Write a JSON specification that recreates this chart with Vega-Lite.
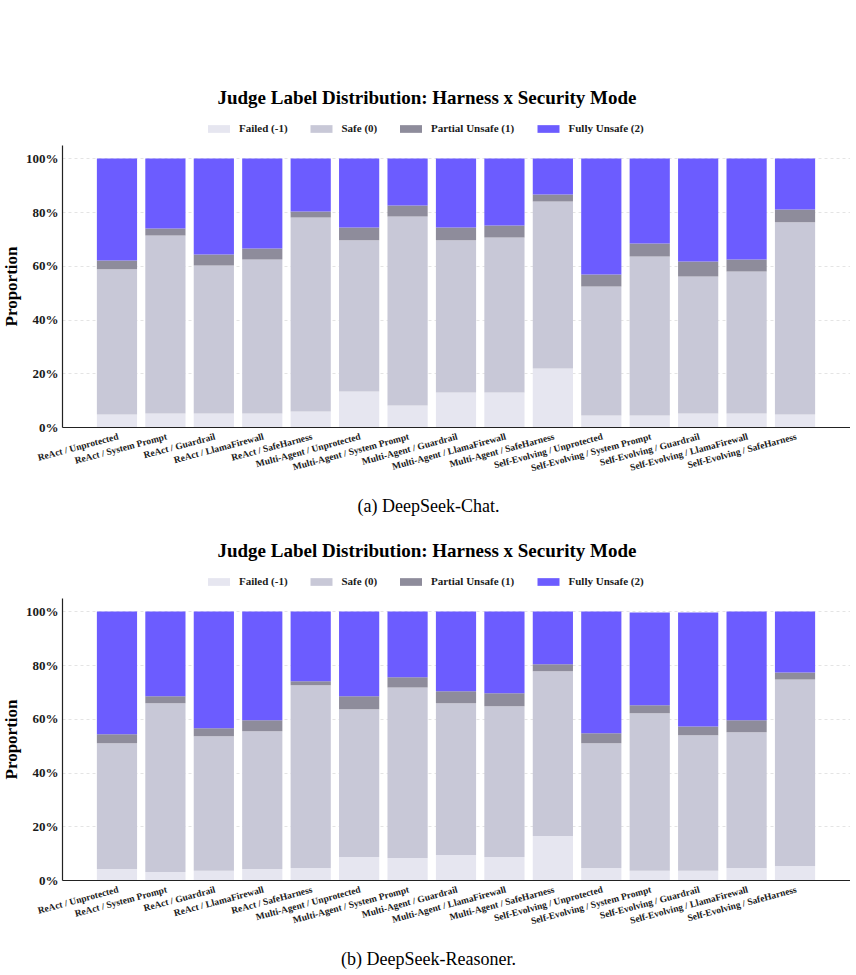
{
  "$schema": "https://vega.github.io/schema/vega-lite/v6.json",
  "padding": {"left": 2, "top": 89, "right": 0, "bottom": 0},
  "autosize": {"type": "pad"},
  "background": "white",
  "config": {
    "font": "Liberation Serif",
    "view": {"stroke": null},
    "concat": {"spacing": 26},
    "axis": {"labelFont": "Liberation Serif", "titleFont": "Liberation Serif", "labelColor": "#1a1a1a", "titleColor": "#000"},
    "legend": {"labelFont": "Liberation Serif"},
    "title": {"font": "Liberation Serif"}
  },
  "datasets": {
    "chat": [
      {"h":"ReAct / Unprotected","c":"Failed (-1)","k":-1,"v":4.7},{"h":"ReAct / Unprotected","c":"Safe (0)","k":0,"v":54.0},{"h":"ReAct / Unprotected","c":"Partial Unsafe (1)","k":1,"v":3.3},{"h":"ReAct / Unprotected","c":"Fully Unsafe (2)","k":2,"v":38.0},
      {"h":"ReAct / System Prompt","c":"Failed (-1)","k":-1,"v":5.0},{"h":"ReAct / System Prompt","c":"Safe (0)","k":0,"v":66.3},{"h":"ReAct / System Prompt","c":"Partial Unsafe (1)","k":1,"v":2.6},{"h":"ReAct / System Prompt","c":"Fully Unsafe (2)","k":2,"v":26.1},
      {"h":"ReAct / Guardrail","c":"Failed (-1)","k":-1,"v":5.0},{"h":"ReAct / Guardrail","c":"Safe (0)","k":0,"v":55.1},{"h":"ReAct / Guardrail","c":"Partial Unsafe (1)","k":1,"v":4.1},{"h":"ReAct / Guardrail","c":"Fully Unsafe (2)","k":2,"v":35.8},
      {"h":"ReAct / LlamaFirewall","c":"Failed (-1)","k":-1,"v":5.0},{"h":"ReAct / LlamaFirewall","c":"Safe (0)","k":0,"v":57.4},{"h":"ReAct / LlamaFirewall","c":"Partial Unsafe (1)","k":1,"v":4.1},{"h":"ReAct / LlamaFirewall","c":"Fully Unsafe (2)","k":2,"v":33.5},
      {"h":"ReAct / SafeHarness","c":"Failed (-1)","k":-1,"v":5.8},{"h":"ReAct / SafeHarness","c":"Safe (0)","k":0,"v":72.2},{"h":"ReAct / SafeHarness","c":"Partial Unsafe (1)","k":1,"v":2.2},{"h":"ReAct / SafeHarness","c":"Fully Unsafe (2)","k":2,"v":19.8},
      {"h":"Multi-Agent / Unprotected","c":"Failed (-1)","k":-1,"v":13.2},{"h":"Multi-Agent / Unprotected","c":"Safe (0)","k":0,"v":56.3},{"h":"Multi-Agent / Unprotected","c":"Partial Unsafe (1)","k":1,"v":4.8},{"h":"Multi-Agent / Unprotected","c":"Fully Unsafe (2)","k":2,"v":25.7},
      {"h":"Multi-Agent / System Prompt","c":"Failed (-1)","k":-1,"v":8.0},{"h":"Multi-Agent / System Prompt","c":"Safe (0)","k":0,"v":70.4},{"h":"Multi-Agent / System Prompt","c":"Partial Unsafe (1)","k":1,"v":4.1},{"h":"Multi-Agent / System Prompt","c":"Fully Unsafe (2)","k":2,"v":17.5},
      {"h":"Multi-Agent / Guardrail","c":"Failed (-1)","k":-1,"v":12.8},{"h":"Multi-Agent / Guardrail","c":"Safe (0)","k":0,"v":56.7},{"h":"Multi-Agent / Guardrail","c":"Partial Unsafe (1)","k":1,"v":4.8},{"h":"Multi-Agent / Guardrail","c":"Fully Unsafe (2)","k":2,"v":25.7},
      {"h":"Multi-Agent / LlamaFirewall","c":"Failed (-1)","k":-1,"v":12.8},{"h":"Multi-Agent / LlamaFirewall","c":"Safe (0)","k":0,"v":57.8},{"h":"Multi-Agent / LlamaFirewall","c":"Partial Unsafe (1)","k":1,"v":4.4},{"h":"Multi-Agent / LlamaFirewall","c":"Fully Unsafe (2)","k":2,"v":25.0},
      {"h":"Multi-Agent / SafeHarness","c":"Failed (-1)","k":-1,"v":21.8},{"h":"Multi-Agent / SafeHarness","c":"Safe (0)","k":0,"v":62.2},{"h":"Multi-Agent / SafeHarness","c":"Partial Unsafe (1)","k":1,"v":2.6},{"h":"Multi-Agent / SafeHarness","c":"Fully Unsafe (2)","k":2,"v":13.4},
      {"h":"Self-Evolving / Unprotected","c":"Failed (-1)","k":-1,"v":4.3},{"h":"Self-Evolving / Unprotected","c":"Safe (0)","k":0,"v":48.0},{"h":"Self-Evolving / Unprotected","c":"Partial Unsafe (1)","k":1,"v":4.5},{"h":"Self-Evolving / Unprotected","c":"Fully Unsafe (2)","k":2,"v":43.2},
      {"h":"Self-Evolving / System Prompt","c":"Failed (-1)","k":-1,"v":4.3},{"h":"Self-Evolving / System Prompt","c":"Safe (0)","k":0,"v":59.2},{"h":"Self-Evolving / System Prompt","c":"Partial Unsafe (1)","k":1,"v":4.8},{"h":"Self-Evolving / System Prompt","c":"Fully Unsafe (2)","k":2,"v":31.7},
      {"h":"Self-Evolving / Guardrail","c":"Failed (-1)","k":-1,"v":5.0},{"h":"Self-Evolving / Guardrail","c":"Safe (0)","k":0,"v":51.0},{"h":"Self-Evolving / Guardrail","c":"Partial Unsafe (1)","k":1,"v":5.6},{"h":"Self-Evolving / Guardrail","c":"Fully Unsafe (2)","k":2,"v":38.4},
      {"h":"Self-Evolving / LlamaFirewall","c":"Failed (-1)","k":-1,"v":5.0},{"h":"Self-Evolving / LlamaFirewall","c":"Safe (0)","k":0,"v":52.9},{"h":"Self-Evolving / LlamaFirewall","c":"Partial Unsafe (1)","k":1,"v":4.5},{"h":"Self-Evolving / LlamaFirewall","c":"Fully Unsafe (2)","k":2,"v":37.6},
      {"h":"Self-Evolving / SafeHarness","c":"Failed (-1)","k":-1,"v":4.7},{"h":"Self-Evolving / SafeHarness","c":"Safe (0)","k":0,"v":71.5},{"h":"Self-Evolving / SafeHarness","c":"Partial Unsafe (1)","k":1,"v":4.8},{"h":"Self-Evolving / SafeHarness","c":"Fully Unsafe (2)","k":2,"v":19.0}
    ],
    "reasoner": [
      {"h":"ReAct / Unprotected","c":"Failed (-1)","k":-1,"v":4.1},{"h":"ReAct / Unprotected","c":"Safe (0)","k":0,"v":46.8},{"h":"ReAct / Unprotected","c":"Partial Unsafe (1)","k":1,"v":3.4},{"h":"ReAct / Unprotected","c":"Fully Unsafe (2)","k":2,"v":45.7},
      {"h":"ReAct / System Prompt","c":"Failed (-1)","k":-1,"v":3.0},{"h":"ReAct / System Prompt","c":"Safe (0)","k":0,"v":62.8},{"h":"ReAct / System Prompt","c":"Partial Unsafe (1)","k":1,"v":2.6},{"h":"ReAct / System Prompt","c":"Fully Unsafe (2)","k":2,"v":31.6},
      {"h":"ReAct / Guardrail","c":"Failed (-1)","k":-1,"v":3.4},{"h":"ReAct / Guardrail","c":"Safe (0)","k":0,"v":50.1},{"h":"ReAct / Guardrail","c":"Partial Unsafe (1)","k":1,"v":3.0},{"h":"ReAct / Guardrail","c":"Fully Unsafe (2)","k":2,"v":43.5},
      {"h":"ReAct / LlamaFirewall","c":"Failed (-1)","k":-1,"v":4.1},{"h":"ReAct / LlamaFirewall","c":"Safe (0)","k":0,"v":51.3},{"h":"ReAct / LlamaFirewall","c":"Partial Unsafe (1)","k":1,"v":4.1},{"h":"ReAct / LlamaFirewall","c":"Fully Unsafe (2)","k":2,"v":40.5},
      {"h":"ReAct / SafeHarness","c":"Failed (-1)","k":-1,"v":4.5},{"h":"ReAct / SafeHarness","c":"Safe (0)","k":0,"v":68.0},{"h":"ReAct / SafeHarness","c":"Partial Unsafe (1)","k":1,"v":1.5},{"h":"ReAct / SafeHarness","c":"Fully Unsafe (2)","k":2,"v":26.0},
      {"h":"Multi-Agent / Unprotected","c":"Failed (-1)","k":-1,"v":8.6},{"h":"Multi-Agent / Unprotected","c":"Safe (0)","k":0,"v":55.0},{"h":"Multi-Agent / Unprotected","c":"Partial Unsafe (1)","k":1,"v":4.8},{"h":"Multi-Agent / Unprotected","c":"Fully Unsafe (2)","k":2,"v":31.6},
      {"h":"Multi-Agent / System Prompt","c":"Failed (-1)","k":-1,"v":8.2},{"h":"Multi-Agent / System Prompt","c":"Safe (0)","k":0,"v":63.5},{"h":"Multi-Agent / System Prompt","c":"Partial Unsafe (1)","k":1,"v":3.8},{"h":"Multi-Agent / System Prompt","c":"Fully Unsafe (2)","k":2,"v":24.5},
      {"h":"Multi-Agent / Guardrail","c":"Failed (-1)","k":-1,"v":9.3},{"h":"Multi-Agent / Guardrail","c":"Safe (0)","k":0,"v":56.5},{"h":"Multi-Agent / Guardrail","c":"Partial Unsafe (1)","k":1,"v":4.5},{"h":"Multi-Agent / Guardrail","c":"Fully Unsafe (2)","k":2,"v":29.7},
      {"h":"Multi-Agent / LlamaFirewall","c":"Failed (-1)","k":-1,"v":8.6},{"h":"Multi-Agent / LlamaFirewall","c":"Safe (0)","k":0,"v":56.1},{"h":"Multi-Agent / LlamaFirewall","c":"Partial Unsafe (1)","k":1,"v":4.8},{"h":"Multi-Agent / LlamaFirewall","c":"Fully Unsafe (2)","k":2,"v":30.5},
      {"h":"Multi-Agent / SafeHarness","c":"Failed (-1)","k":-1,"v":16.4},{"h":"Multi-Agent / SafeHarness","c":"Safe (0)","k":0,"v":61.3},{"h":"Multi-Agent / SafeHarness","c":"Partial Unsafe (1)","k":1,"v":2.6},{"h":"Multi-Agent / SafeHarness","c":"Fully Unsafe (2)","k":2,"v":19.7},
      {"h":"Self-Evolving / Unprotected","c":"Failed (-1)","k":-1,"v":4.5},{"h":"Self-Evolving / Unprotected","c":"Safe (0)","k":0,"v":46.4},{"h":"Self-Evolving / Unprotected","c":"Partial Unsafe (1)","k":1,"v":3.7},{"h":"Self-Evolving / Unprotected","c":"Fully Unsafe (2)","k":2,"v":45.4},
      {"h":"Self-Evolving / System Prompt","c":"Failed (-1)","k":-1,"v":3.4},{"h":"Self-Evolving / System Prompt","c":"Safe (0)","k":0,"v":58.7},{"h":"Self-Evolving / System Prompt","c":"Partial Unsafe (1)","k":1,"v":3.0},{"h":"Self-Evolving / System Prompt","c":"Fully Unsafe (2)","k":2,"v":34.5},
      {"h":"Self-Evolving / Guardrail","c":"Failed (-1)","k":-1,"v":3.4},{"h":"Self-Evolving / Guardrail","c":"Safe (0)","k":0,"v":50.5},{"h":"Self-Evolving / Guardrail","c":"Partial Unsafe (1)","k":1,"v":3.3},{"h":"Self-Evolving / Guardrail","c":"Fully Unsafe (2)","k":2,"v":42.4},
      {"h":"Self-Evolving / LlamaFirewall","c":"Failed (-1)","k":-1,"v":4.5},{"h":"Self-Evolving / LlamaFirewall","c":"Safe (0)","k":0,"v":50.5},{"h":"Self-Evolving / LlamaFirewall","c":"Partial Unsafe (1)","k":1,"v":4.5},{"h":"Self-Evolving / LlamaFirewall","c":"Fully Unsafe (2)","k":2,"v":40.5},
      {"h":"Self-Evolving / SafeHarness","c":"Failed (-1)","k":-1,"v":5.2},{"h":"Self-Evolving / SafeHarness","c":"Safe (0)","k":0,"v":69.5},{"h":"Self-Evolving / SafeHarness","c":"Partial Unsafe (1)","k":1,"v":2.6},{"h":"Self-Evolving / SafeHarness","c":"Fully Unsafe (2)","k":2,"v":22.7}
    ]
  },
  "vconcat": [
    {
      "width": 788, "height": 282,
      "title": {"text": "Judge Label Distribution: Harness x Security Mode", "fontSize": 19, "fontWeight": "bold", "color": "#000", "dx": -29, "offset": 10},
      "data": {"name": "chat"},
      "mark": {"type": "bar"},
      "encoding": {
        "x": {"field": "h", "type": "nominal", "sort": null,
          "scale": {"paddingInner": 0.17, "paddingOuter": 0.72},
          "axis": {"title": "(a) DeepSeek-Chat.", "titleFontSize": 18, "titleFontWeight": "normal", "titlePadding": 25, "titleX": 366,
            "labelAngle": -15, "labelAlign": "right", "labelBaseline": "top", "labelFontSize": 9.5, "labelFontWeight": "bold", "labelPadding": 4,
            "labelOverlap": false, "labelLimit": 0, "ticks": false, "domainColor": "#222", "domainWidth": 1.2, "grid": false}},
        "y": {"field": "v", "type": "quantitative", "stack": "zero",
          "scale": {"domain": [0, 105], "nice": false, "zero": true},
          "axis": {"title": "Proportion", "titleFontSize": 17, "titleFontWeight": "bold", "titlePadding": 5,
            "values": [0, 20, 40, 60, 80, 100], "labelExpr": "datum.value + '%'", "labelFontSize": 13, "labelFontWeight": "bold", "labelPadding": 4,
            "ticks": false, "domainColor": "#222", "domainWidth": 1.2, "grid": true, "gridColor": "#dddddd", "gridDash": [3, 3], "gridWidth": 0.8}},
        "color": {"field": "c", "type": "nominal",
          "scale": {"domain": ["Failed (-1)", "Safe (0)", "Partial Unsafe (1)", "Fully Unsafe (2)"], "range": ["#e6e6f0", "#c8c8d7", "#8e8c9b", "#6c5cff"]},
          "legend": {"title": null, "orient": "none", "legendX": 146, "legendY": -27, "direction": "horizontal", "padding": 0,
            "symbolType": "M-1,-0.35L1,-0.35L1,0.35L-1,0.35Z", "symbolSize": 484, "symbolStrokeWidth": 0, "symbolOpacity": 1,
            "labelFontSize": 11, "labelFontWeight": "bold", "labelColor": "#1a1a1a", "labelOffset": 9, "columnPadding": 22.5}},
        "order": {"field": "k", "type": "quantitative"}
      }
    },
    {
      "width": 788, "height": 282,
      "title": {"text": "Judge Label Distribution: Harness x Security Mode", "fontSize": 19, "fontWeight": "bold", "color": "#000", "dx": -29, "offset": 10},
      "data": {"name": "reasoner"},
      "mark": {"type": "bar"},
      "encoding": {
        "x": {"field": "h", "type": "nominal", "sort": null,
          "scale": {"paddingInner": 0.17, "paddingOuter": 0.72},
          "axis": {"title": "(b) DeepSeek-Reasoner.", "titleFontSize": 18, "titleFontWeight": "normal", "titlePadding": 25, "titleX": 366,
            "labelAngle": -15, "labelAlign": "right", "labelBaseline": "top", "labelFontSize": 9.5, "labelFontWeight": "bold", "labelPadding": 4,
            "labelOverlap": false, "labelLimit": 0, "ticks": false, "domainColor": "#222", "domainWidth": 1.2, "grid": false}},
        "y": {"field": "v", "type": "quantitative", "stack": "zero",
          "scale": {"domain": [0, 105], "nice": false, "zero": true},
          "axis": {"title": "Proportion", "titleFontSize": 17, "titleFontWeight": "bold", "titlePadding": 5,
            "values": [0, 20, 40, 60, 80, 100], "labelExpr": "datum.value + '%'", "labelFontSize": 13, "labelFontWeight": "bold", "labelPadding": 4,
            "ticks": false, "domainColor": "#222", "domainWidth": 1.2, "grid": true, "gridColor": "#dddddd", "gridDash": [3, 3], "gridWidth": 0.8}},
        "color": {"field": "c", "type": "nominal",
          "scale": {"domain": ["Failed (-1)", "Safe (0)", "Partial Unsafe (1)", "Fully Unsafe (2)"], "range": ["#e6e6f0", "#c8c8d7", "#8e8c9b", "#6c5cff"]},
          "legend": {"title": null, "orient": "none", "legendX": 146, "legendY": -27, "direction": "horizontal", "padding": 0,
            "symbolType": "M-1,-0.35L1,-0.35L1,0.35L-1,0.35Z", "symbolSize": 484, "symbolStrokeWidth": 0, "symbolOpacity": 1,
            "labelFontSize": 11, "labelFontWeight": "bold", "labelColor": "#1a1a1a", "labelOffset": 9, "columnPadding": 22.5}},
        "order": {"field": "k", "type": "quantitative"}
      }
    }
  ],
  "resolve": {"scale": {"color": "independent"}, "legend": {"color": "independent"}}
}
